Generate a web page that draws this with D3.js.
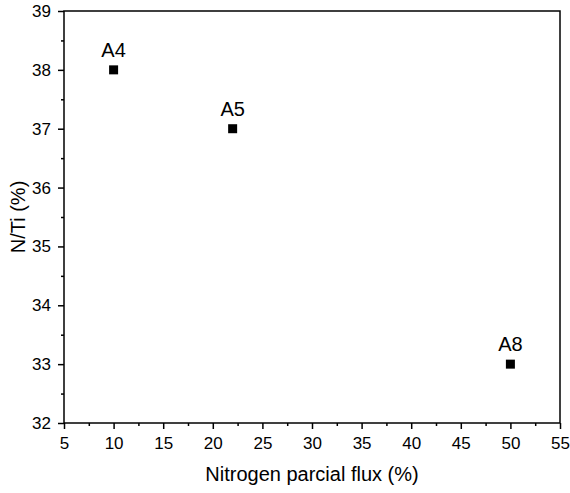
<!DOCTYPE html>
<html>
<head>
<meta charset="utf-8">
<script src="https://cdn.jsdelivr.net/npm/d3@7"></script>
<style>
  body { margin: 0; background: #fff; }
  text { font-family: "Liberation Sans", Arial, sans-serif; fill: #000; }
</style>
</head>
<body>
<svg id="chart" width="570" height="493"></svg>
<script>
// Donnees
const samples = ["A4", "A5", "A8"];
const nitrogenFlux = [10, 22, 50];
const nTiRatio = [38, 37, 33];
const xTicks = [5, 10, 15, 20, 25, 30, 35, 40, 45, 50, 55];
const yTicks = [32, 33, 34, 35, 36, 37, 38, 39];

const margin = { top: 11, right: 10, bottom: 70, left: 64 };
const width = 570 - margin.left - margin.right;
const height = 493 - margin.top - margin.bottom;

const svg = d3.select("#chart");
const g = svg.append("g").attr("transform", "translate(" + margin.left + "," + margin.top + ")");

const x = d3.scaleLinear().domain([5, 55]).range([0, width]);
const y = d3.scaleLinear().domain([32, 39]).range([height, 0]);

// Cadre
g.append("rect")
    .attr("width", width)
    .attr("height", height)
    .attr("fill", "none")
    .attr("stroke", "#000")
    .attr("stroke-width", 1.5);

// Axes principaux
const xAxis = g.append("g")
    .attr("transform", "translate(0," + height + ")")
    .call(d3.axisBottom(x).tickValues(xTicks).tickFormat(d3.format("d")).tickSize(6).tickPadding(8));
const yAxis = g.append("g")
    .call(d3.axisLeft(y).tickValues(yTicks).tickFormat(d3.format("d")).tickSize(6).tickPadding(7));

// Graduations mineures
const xMinor = d3.range(7.5, 55, 5);
const yMinor = d3.range(32.5, 39, 1);
g.append("g")
    .attr("transform", "translate(0," + height + ")")
    .call(d3.axisBottom(x).tickValues(xMinor).tickSize(3).tickFormat(""));
g.append("g")
    .call(d3.axisLeft(y).tickValues(yMinor).tickSize(3).tickFormat(""));

g.selectAll(".domain").remove();
g.selectAll(".tick line").attr("stroke", "#000").attr("stroke-width", 1.5);
xAxis.selectAll("text").style("font-size", "17px");
yAxis.selectAll("text").style("font-size", "17px");

// Points
const points = samples.map(function(name, i) {
    return { name: name, fx: nitrogenFlux[i], ratio: nTiRatio[i] };
});

g.selectAll(".pt")
    .data(points)
    .enter()
    .append("rect")
    .attr("class", "pt")
    .attr("x", function(d) { return x(d.fx) - 4.5; })
    .attr("y", function(d) { return y(d.ratio) - 4.5; })
    .attr("width", 9)
    .attr("height", 9)
    .attr("fill", "#000");

g.selectAll(".lbl")
    .data(points)
    .enter()
    .append("text")
    .attr("class", "lbl")
    .attr("x", function(d) { return x(d.fx); })
    .attr("y", function(d) { return y(d.ratio) - 13; })
    .attr("text-anchor", "middle")
    .style("font-size", "20px")
    .text(function(d) { return d.name; });

// Titres des axes
svg.append("text")
    .attr("x", margin.left + width / 2)
    .attr("y", 481)
    .attr("text-anchor", "middle")
    .style("font-size", "20px")
    .text("Nitrogen parcial flux (%)");

svg.append("text")
    .attr("transform", "translate(25," + (margin.top + height / 2) + ") rotate(-90)")
    .attr("text-anchor", "middle")
    .style("font-size", "20px")
    .text("N/Ti (%)");
</script>
</body>
</html>
